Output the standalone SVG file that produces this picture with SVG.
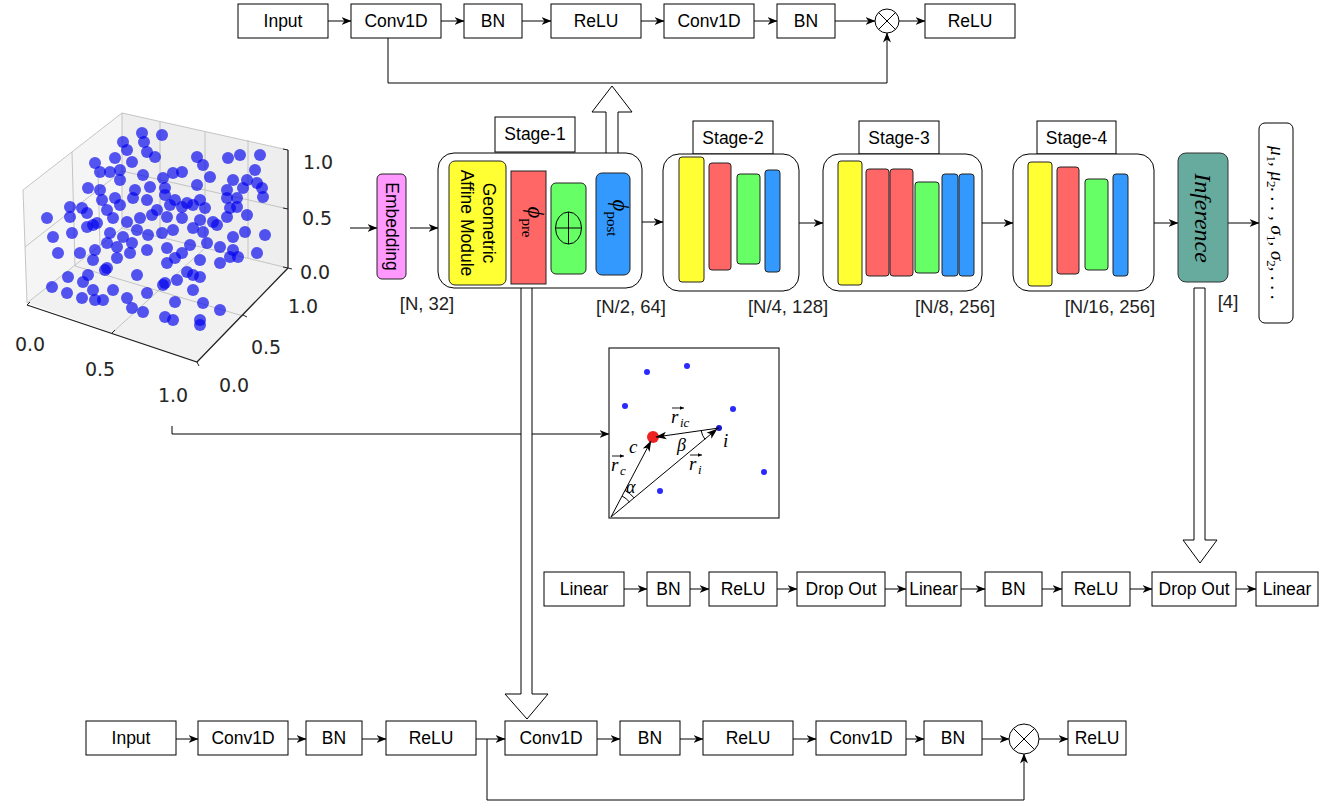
<svg xmlns="http://www.w3.org/2000/svg" width="1336" height="804" viewBox="0 0 1336 804">
<defs>
<marker id="ah" viewBox="0 0 10 10" refX="9.5" refY="5" markerWidth="10" markerHeight="10" orient="auto" markerUnits="userSpaceOnUse"><path d="M0,1 L10,5 L0,9 L3,5 z" fill="#000"/></marker>
<marker id="vh" viewBox="0 0 10 10" refX="9.5" refY="5" markerWidth="11" markerHeight="11" orient="auto" markerUnits="userSpaceOnUse"><path d="M0,1.5 L10,5 L0,8.5 L2.5,5 z" fill="#000"/></marker>
<marker id="sm" viewBox="0 0 10 10" refX="9.5" refY="5" markerWidth="4.5" markerHeight="4.5" orient="auto" markerUnits="userSpaceOnUse"><path d="M0,1 L10,5 L0,9 z" fill="#000"/></marker>
</defs>
<style>
.box{fill:#fff;stroke:#000;stroke-width:1}
.lbl{font-family:"Liberation Sans",Arial,Helvetica,sans-serif;font-size:17.5px;text-anchor:middle;dominant-baseline:central;fill:#000}
.dim{font-family:"Liberation Sans",Arial,Helvetica,sans-serif;font-size:18.5px;text-anchor:middle;fill:#222}
.conn{stroke:#000;stroke-width:1;fill:none}
.arr{marker-end:url(#ah)}
.stage{fill:#fff;stroke:#000;stroke-width:1}
.y{fill:#ffff33;stroke:#222;stroke-width:1}
.r{fill:#ff6666;stroke:#222;stroke-width:1}
.g{fill:#66ff66;stroke:#222;stroke-width:1}
.b{fill:#3399ff;stroke:#222;stroke-width:1}
.hollow{fill:#fff;stroke:#000;stroke-width:1}
.math{font-family:"Liberation Serif","Times New Roman",serif;font-style:italic;fill:#000}
.tick{font-family:"DejaVu Sans","Liberation Sans",sans-serif;font-size:19px;fill:#262626;text-anchor:middle;dominant-baseline:central}
.grid{stroke:#b8b8b8;stroke-width:0.8;fill:none}
.pt{fill:#0000ee;fill-opacity:0.66}
.ipt{fill:#2a2aff}
</style>

<!-- 3D scatter plot -->
<g id="scatter-plot">
<polygon points="23,190 122,113 122,228 27,303" fill="#f5f5f5" stroke="none"/>
<polygon points="122,113 288,150 288,268 122,228" fill="#eeeeee" stroke="none"/>
<polygon points="27,303 122,228 288,268 197,362" fill="#f1f1f1" stroke="none"/>
<path class="grid" d="M23,190 L122,113 L288,150 M23,190 L27,303 M122,113 L122,228 M72,152 L75,266 M205,132 L205,248 M25,247 L122,171 L288,209 M27,303 L122,228 L288,268 M75,266 L243,316 M205,248 L112,333 M98,171 L100,246 M160,122 L160,238 M248,140 L248,258"/>
<g>
<circle class="pt" cx="142" cy="133" r="6"/><circle class="pt" cx="162" cy="135" r="6"/>
<circle class="pt" cx="123" cy="142" r="6"/><circle class="pt" cx="144" cy="142" r="6"/>
<circle class="pt" cx="127" cy="150" r="6"/><circle class="pt" cx="147" cy="152" r="6"/><circle class="pt" cx="155" cy="157" r="6"/>
<circle class="pt" cx="197" cy="157" r="6"/><circle class="pt" cx="228" cy="158" r="6"/><circle class="pt" cx="240" cy="155" r="6"/><circle class="pt" cx="260" cy="155" r="6"/>
<circle class="pt" cx="95" cy="163" r="6"/><circle class="pt" cx="115" cy="158" r="6"/><circle class="pt" cx="132" cy="162" r="6"/><circle class="pt" cx="203" cy="165" r="6"/><circle class="pt" cx="255" cy="170" r="6"/>
<circle class="pt" cx="100" cy="172" r="6"/><circle class="pt" cx="110" cy="172" r="6"/><circle class="pt" cx="120" cy="170" r="6"/><circle class="pt" cx="143" cy="175" r="6"/><circle class="pt" cx="163" cy="178" r="6"/><circle class="pt" cx="173" cy="173" r="6"/><circle class="pt" cx="182" cy="172" r="6"/><circle class="pt" cx="210" cy="177" r="6"/><circle class="pt" cx="233" cy="180" r="6"/><circle class="pt" cx="247" cy="180" r="6"/><circle class="pt" cx="257" cy="183" r="6"/>
<circle class="pt" cx="88" cy="188" r="6"/><circle class="pt" cx="100" cy="190" r="6"/><circle class="pt" cx="120" cy="180" r="6"/><circle class="pt" cx="135" cy="190" r="6"/><circle class="pt" cx="150" cy="187" r="6"/><circle class="pt" cx="165" cy="188" r="6"/><circle class="pt" cx="197" cy="185" r="6"/><circle class="pt" cx="227" cy="190" r="6"/><circle class="pt" cx="243" cy="188" r="6"/><circle class="pt" cx="262" cy="188" r="6"/>
<circle class="pt" cx="102" cy="200" r="6"/><circle class="pt" cx="115" cy="198" r="6"/><circle class="pt" cx="133" cy="198" r="6"/><circle class="pt" cx="147" cy="200" r="6"/><circle class="pt" cx="165" cy="195" r="6"/><circle class="pt" cx="175" cy="200" r="6"/><circle class="pt" cx="187" cy="203" r="6"/><circle class="pt" cx="200" cy="200" r="6"/><circle class="pt" cx="227" cy="198" r="6"/><circle class="pt" cx="237" cy="198" r="6"/><circle class="pt" cx="263" cy="197" r="6"/>
<circle class="pt" cx="70" cy="207" r="6"/><circle class="pt" cx="82" cy="208" r="6"/><circle class="pt" cx="107" cy="210" r="6"/><circle class="pt" cx="120" cy="205" r="6"/><circle class="pt" cx="157" cy="210" r="6"/><circle class="pt" cx="170" cy="205" r="6"/><circle class="pt" cx="182" cy="207" r="6"/><circle class="pt" cx="193" cy="205" r="6"/><circle class="pt" cx="205" cy="208" r="6"/><circle class="pt" cx="230" cy="208" r="6"/><circle class="pt" cx="237" cy="207" r="6"/>
<circle class="pt" cx="47" cy="218" r="6"/><circle class="pt" cx="70" cy="217" r="6"/><circle class="pt" cx="87" cy="213" r="6"/><circle class="pt" cx="97" cy="223" r="6"/><circle class="pt" cx="113" cy="218" r="6"/><circle class="pt" cx="127" cy="222" r="6"/><circle class="pt" cx="140" cy="218" r="6"/><circle class="pt" cx="152" cy="215" r="6"/><circle class="pt" cx="167" cy="217" r="6"/><circle class="pt" cx="182" cy="218" r="6"/><circle class="pt" cx="200" cy="220" r="6"/><circle class="pt" cx="213" cy="222" r="6"/><circle class="pt" cx="227" cy="217" r="6"/><circle class="pt" cx="247" cy="215" r="6"/>
<circle class="pt" cx="53" cy="237" r="6"/><circle class="pt" cx="72" cy="233" r="6"/><circle class="pt" cx="87" cy="227" r="6"/><circle class="pt" cx="93" cy="225" r="6"/><circle class="pt" cx="110" cy="233" r="6"/><circle class="pt" cx="123" cy="237" r="6"/><circle class="pt" cx="137" cy="230" r="6"/><circle class="pt" cx="148" cy="235" r="6"/><circle class="pt" cx="162" cy="233" r="6"/><circle class="pt" cx="173" cy="230" r="6"/><circle class="pt" cx="193" cy="228" r="6"/><circle class="pt" cx="203" cy="232" r="6"/><circle class="pt" cx="217" cy="225" r="6"/><circle class="pt" cx="233" cy="237" r="6"/><circle class="pt" cx="245" cy="232" r="6"/><circle class="pt" cx="265" cy="235" r="6"/>
<circle class="pt" cx="58" cy="253" r="6"/><circle class="pt" cx="80" cy="253" r="6"/><circle class="pt" cx="95" cy="250" r="6"/><circle class="pt" cx="107" cy="243" r="6"/><circle class="pt" cx="117" cy="247" r="6"/><circle class="pt" cx="132" cy="243" r="6"/><circle class="pt" cx="147" cy="250" r="6"/><circle class="pt" cx="167" cy="248" r="6"/><circle class="pt" cx="182" cy="253" r="6"/><circle class="pt" cx="190" cy="245" r="6"/><circle class="pt" cx="207" cy="243" r="6"/><circle class="pt" cx="220" cy="247" r="6"/><circle class="pt" cx="233" cy="250" r="6"/><circle class="pt" cx="257" cy="253" r="6"/>
<circle class="pt" cx="93" cy="260" r="6"/><circle class="pt" cx="107" cy="268" r="6"/><circle class="pt" cx="117" cy="258" r="6"/><circle class="pt" cx="130" cy="253" r="6"/><circle class="pt" cx="167" cy="263" r="6"/><circle class="pt" cx="175" cy="258" r="6"/><circle class="pt" cx="200" cy="260" r="6"/><circle class="pt" cx="220" cy="263" r="6"/><circle class="pt" cx="230" cy="257" r="6"/><circle class="pt" cx="238" cy="257" r="6"/>
<circle class="pt" cx="68" cy="277" r="6"/><circle class="pt" cx="88" cy="275" r="6"/><circle class="pt" cx="105" cy="270" r="6"/><circle class="pt" cx="137" cy="275" r="6"/><circle class="pt" cx="165" cy="283" r="6"/><circle class="pt" cx="177" cy="280" r="6"/><circle class="pt" cx="187" cy="272" r="6"/><circle class="pt" cx="193" cy="275" r="6"/><circle class="pt" cx="200" cy="277" r="6"/>
<circle class="pt" cx="52" cy="287" r="6"/><circle class="pt" cx="67" cy="293" r="6"/><circle class="pt" cx="83" cy="282" r="6"/><circle class="pt" cx="93" cy="290" r="6"/><circle class="pt" cx="113" cy="290" r="6"/><circle class="pt" cx="127" cy="298" r="6"/><circle class="pt" cx="147" cy="293" r="6"/><circle class="pt" cx="163" cy="285" r="6"/><circle class="pt" cx="193" cy="290" r="6"/><circle class="pt" cx="203" cy="303" r="6"/>
<circle class="pt" cx="82" cy="298" r="6"/><circle class="pt" cx="95" cy="300" r="6"/><circle class="pt" cx="103" cy="300" r="6"/><circle class="pt" cx="132" cy="308" r="6"/><circle class="pt" cx="143" cy="312" r="6"/><circle class="pt" cx="165" cy="317" r="6"/><circle class="pt" cx="173" cy="320" r="6"/><circle class="pt" cx="175" cy="302" r="6"/><circle class="pt" cx="200" cy="320" r="6"/><circle class="pt" cx="200" cy="325" r="6"/><circle class="pt" cx="220" cy="310" r="6"/>
</g>
<path d="M27,305 L197,362 L288,268 M288,150 L288,268" stroke="#222" stroke-width="1.3" fill="none"/>
<path d="M27,305 l3,-3 M112,333 l3,-3 M197,362 l3,-3 M197,362 l2,4 M243,315 l4,2 M288,268 l4,1 M288,150 l-5,-1 M288,209 l-5,-1 M288,268 l-5,-1" stroke="#222" stroke-width="1" fill="none"/>
<text class="tick" x="318" y="162">1.0</text>
<text class="tick" x="317" y="218">0.5</text>
<text class="tick" x="315" y="272">0.0</text>
<text class="tick" x="303" y="306">1.0</text>
<text class="tick" x="266" y="347">0.5</text>
<text class="tick" x="234" y="385">0.0</text>
<text class="tick" x="30" y="344">0.0</text>
<text class="tick" x="100" y="369">0.5</text>
<text class="tick" x="173" y="395">1.0</text>
</g>

<!-- connectors -->
<g id="connectors">
<path class="conn arr" d="M328,21 L351,21"/>
<path class="conn arr" d="M441,21 L464,21"/>
<path class="conn arr" d="M522,21 L551,21"/>
<path class="conn arr" d="M641,21 L664,21"/>
<path class="conn arr" d="M754,21 L777,21"/>
<path class="conn arr" d="M835,21 L875,21"/>
<path class="conn arr" d="M899,21 L925,21"/>
<path class="conn arr" d="M388,38 L388,83 L887,83 L887,33"/>
<path class="conn arr" d="M350,228 L377,228"/>
<path class="conn arr" d="M410,228 L438,228"/>
<path class="conn arr" d="M642,222 L663,222"/>
<path class="conn arr" d="M799,223 L823,223"/>
<path class="conn arr" d="M982,223 L1013,223"/>
<path class="conn arr" d="M1154,223 L1178,223"/>
<path class="conn arr" d="M1228,223 L1259,223"/>
<path class="conn arr" d="M172,426 L172,434 L609,434"/>
<path class="conn arr" d="M624,589 L647,589"/>
<path class="conn arr" d="M690,589 L709,589"/>
<path class="conn arr" d="M777,589 L797,589"/>
<path class="conn arr" d="M885,589 L906,589"/>
<path class="conn arr" d="M961,589 L985,589"/>
<path class="conn arr" d="M1042,589 L1062,589"/>
<path class="conn arr" d="M1130,589 L1152,589"/>
<path class="conn arr" d="M1236,589 L1256,589"/>
<path class="conn arr" d="M176,739 L198,739"/>
<path class="conn arr" d="M288,739 L306,739"/>
<path class="conn arr" d="M362,739 L386,739"/>
<path class="conn arr" d="M476,739 L505,739"/>
<path class="conn arr" d="M597,739 L620,739"/>
<path class="conn arr" d="M680,739 L703,739"/>
<path class="conn arr" d="M793,739 L816,739"/>
<path class="conn arr" d="M906,739 L924,739"/>
<path class="conn arr" d="M982,739 L1009,739"/>
<path class="conn arr" d="M1039,739 L1068,739"/>
<path class="conn arr" d="M487,739 L487,800 L1024,800 L1024,754"/>
<polygon class="hollow" points="606,168 606,112 592,112 612,86 632,112 618,112 618,168"/>
<polygon class="hollow" points="521,285 532,285 532,694 548,694 527,719 505,694 521,694"/>
<polygon class="hollow" points="1194,288 1205,288 1205,540 1217,540 1200,563 1183,540 1194,540"/>
</g>

<!-- top residual block -->
<g id="top-input"><rect class="box" x="238" y="4" width="90" height="34"/><text class="lbl" x="283" y="21">Input</text></g>
<g id="top-conv1"><rect class="box" x="351" y="4" width="90" height="34"/><text class="lbl" x="396" y="21">Conv1D</text></g>
<g id="top-bn1"><rect class="box" x="464" y="4" width="58" height="34"/><text class="lbl" x="493" y="21">BN</text></g>
<g id="top-relu1"><rect class="box" x="551" y="4" width="90" height="34"/><text class="lbl" x="596" y="21">ReLU</text></g>
<g id="top-conv2"><rect class="box" x="664" y="4" width="90" height="34"/><text class="lbl" x="709" y="21">Conv1D</text></g>
<g id="top-bn2"><rect class="box" x="777" y="4" width="58" height="34"/><text class="lbl" x="806" y="21">BN</text></g>
<g id="top-mul"><circle class="box" cx="887" cy="21" r="12"/><path d="M878.5,12.5 L895.5,29.5 M895.5,12.5 L878.5,29.5" stroke="#000" stroke-width="1"/></g>
<g id="top-relu2"><rect class="box" x="925" y="4" width="90" height="34"/><text class="lbl" x="970" y="21">ReLU</text></g>

<!-- embedding -->
<g id="embedding"><rect x="377" y="174" width="29" height="105" rx="5" fill="#ff99ff" stroke="#222"/><text class="lbl" font-size="19" transform="translate(391.5,226.5) rotate(90)" x="0" y="0">Embedding</text></g>
<text class="dim" x="427" y="310">[N, 32]</text>

<!-- stage 1 -->
<g id="stage-1">
<rect class="box" x="495" y="117" width="80" height="35"/><text class="lbl" x="535" y="134">Stage-1</text>
<rect class="stage" x="438" y="153" width="204" height="135" rx="16"/>
<rect class="y" x="449" y="161" width="57" height="124" rx="6"/>
<text class="lbl" font-size="19" transform="translate(477.5,223) rotate(90)"><tspan x="0" y="-11">Geometric</tspan><tspan x="0" y="11">Affine Module</tspan></text>
<rect class="r" x="511" y="171" width="35" height="113"/>
<text class="math" transform="translate(528,222) rotate(90)" text-anchor="middle" font-size="23"><tspan>ϕ</tspan><tspan font-size="15" font-style="normal" dy="6">pre</tspan></text>
<rect class="g" x="551" y="183" width="35" height="91" rx="5"/>
<ellipse cx="568.5" cy="228" rx="13" ry="16" fill="none" stroke="#000"/>
<path d="M555.5,228 L581.5,228 M568.5,212 L568.5,244" stroke="#000"/>
<rect class="b" x="596" y="173" width="34" height="102" rx="6"/>
<text class="math" transform="translate(613,218) rotate(90)" text-anchor="middle" font-size="23"><tspan>ϕ</tspan><tspan font-size="15" font-style="normal" dy="6">post</tspan></text>
</g>
<text class="dim" x="631" y="313">[N/2, 64]</text>

<!-- stage 2 -->
<g id="stage-2">
<rect class="box" x="693" y="121" width="80" height="33"/><text class="lbl" x="733" y="137.5">Stage-2</text>
<rect class="stage" x="663" y="154" width="136" height="137" rx="16"/>
<rect class="y" x="679" y="157" width="25" height="125" rx="3"/>
<rect class="r" x="709" y="163" width="22" height="107" rx="3"/>
<rect class="g" x="737" y="174" width="23" height="90" rx="3"/>
<rect class="b" x="765" y="170" width="15" height="102" rx="3"/>
</g>
<text class="dim" x="788" y="313">[N/4, 128]</text>

<!-- stage 3 -->
<g id="stage-3">
<rect class="box" x="859" y="121" width="80" height="33"/><text class="lbl" x="899" y="137.5">Stage-3</text>
<rect class="stage" x="823" y="154" width="159" height="137" rx="16"/>
<rect class="y" x="838" y="161" width="24" height="124" rx="3"/>
<rect class="r" x="866" y="169" width="23" height="107" rx="3"/>
<rect class="r" x="890" y="169" width="23" height="107" rx="3"/>
<rect class="g" x="915" y="182" width="24" height="91" rx="3"/>
<rect class="b" x="942" y="174" width="16" height="102" rx="3"/>
<rect class="b" x="959" y="174" width="15" height="102" rx="3"/>
</g>
<text class="dim" x="955" y="313">[N/8, 256]</text>

<!-- stage 4 -->
<g id="stage-4">
<rect class="box" x="1037" y="121" width="79" height="33"/><text class="lbl" x="1076.5" y="137.5">Stage-4</text>
<rect class="stage" x="1013" y="154" width="141" height="137" rx="16"/>
<rect class="y" x="1028" y="162" width="24" height="124" rx="3"/>
<rect class="r" x="1057" y="167" width="22" height="107" rx="3"/>
<rect class="g" x="1085" y="179" width="23" height="91" rx="3"/>
<rect class="b" x="1113" y="174" width="15" height="102" rx="3"/>
</g>
<text class="dim" x="1110" y="313">[N/16, 256]</text>

<!-- inference -->
<g id="inference"><rect x="1178" y="153" width="50" height="129" rx="8" fill="#67ab9f" stroke="#333"/><text class="math" font-size="24" text-anchor="middle" dominant-baseline="central" transform="translate(1203,218) rotate(90)">Inference</text></g>
<text class="dim" x="1228" y="308">[4]</text>

<!-- output -->
<g id="output"><rect class="box" x="1259" y="123" width="34" height="200" rx="6"/>
<text class="math" font-size="19" text-anchor="middle" transform="translate(1271,223) rotate(90)">μ<tspan font-size="13" dy="4" font-style="normal">1</tspan><tspan dy="-4">, μ</tspan><tspan font-size="13" dy="4" font-style="normal">2</tspan><tspan dy="-4">. . . , σ</tspan><tspan font-size="13" dy="4" font-style="normal">1</tspan><tspan dy="-4">, σ</tspan><tspan font-size="13" dy="4" font-style="normal">2</tspan><tspan dy="-4">, . . .</tspan></text></g>

<!-- geometry inset -->
<g id="geometry-inset">
<rect x="609" y="348" width="170" height="170" fill="#fff" stroke="#222" stroke-width="1.2"/>
<circle class="ipt" cx="647" cy="372" r="3"/>
<circle class="ipt" cx="687" cy="366" r="3"/>
<circle class="ipt" cx="625" cy="406" r="3"/>
<circle class="ipt" cx="733" cy="409" r="3"/>
<circle class="ipt" cx="764" cy="472" r="3"/>
<circle class="ipt" cx="660" cy="491" r="3"/>
<circle cx="719" cy="428" r="3" fill="#1a1acc"/>
<circle cx="653" cy="437" r="6" fill="#ee2222"/>
<path d="M611,517 L651,441" stroke="#000" stroke-width="1" marker-end="url(#vh)"/>
<path d="M611,517 L717,429" stroke="#000" stroke-width="1" marker-end="url(#vh)"/>
<path d="M719,428 L656,437" stroke="#000" stroke-width="1" marker-end="url(#vh)"/>
<path d="M625,490.4 A30,30 0 0 1 634.1,497.9" fill="none" stroke="#000"/>
<path d="M622,496 A24,24 0 0 1 629.5,502" fill="none" stroke="#000"/>
<path d="M701.2,430.6 A18,18 0 0 0 705.1,439.4" fill="none" stroke="#000"/>
<path d="M672,408 L684,408" stroke="#000" stroke-width="0.9" marker-end="url(#sm)"/>
<text class="math" font-size="19" x="671" y="423">r</text><text class="math" font-size="13" x="680" y="427">ic</text>
<text class="math" font-size="19" x="629" y="453">c</text>
<text class="math" font-size="18" x="677" y="451">β</text>
<text class="math" font-size="19" x="723" y="447">i</text>
<path d="M612,456 L624,456" stroke="#000" stroke-width="0.9" marker-end="url(#sm)"/>
<text class="math" font-size="19" x="611" y="471">r</text><text class="math" font-size="13" x="620" y="475">c</text>
<path d="M690,455 L702,455" stroke="#000" stroke-width="0.9" marker-end="url(#sm)"/>
<text class="math" font-size="19" x="689" y="470">r</text><text class="math" font-size="13" x="698" y="474">i</text>
<text class="math" font-size="18" x="626" y="493">α</text>
</g>

<!-- MLP row -->
<g id="mlp-linear1"><rect class="box" x="544" y="572" width="80" height="34"/><text class="lbl" x="584" y="589">Linear</text></g>
<g id="mlp-bn1"><rect class="box" x="647" y="572" width="43" height="34"/><text class="lbl" x="668.5" y="589">BN</text></g>
<g id="mlp-relu1"><rect class="box" x="709" y="572" width="68" height="34"/><text class="lbl" x="743" y="589">ReLU</text></g>
<g id="mlp-drop1"><rect class="box" x="797" y="572" width="88" height="34"/><text class="lbl" x="841" y="589">Drop Out</text></g>
<g id="mlp-linear2"><rect class="box" x="906" y="572" width="55" height="34"/><text class="lbl" x="933.5" y="589">Linear</text></g>
<g id="mlp-bn2"><rect class="box" x="985" y="572" width="57" height="34"/><text class="lbl" x="1013.5" y="589">BN</text></g>
<g id="mlp-relu2"><rect class="box" x="1062" y="572" width="68" height="34"/><text class="lbl" x="1096" y="589">ReLU</text></g>
<g id="mlp-drop2"><rect class="box" x="1152" y="572" width="84" height="34"/><text class="lbl" x="1194" y="589">Drop Out</text></g>
<g id="mlp-linear3"><rect class="box" x="1256" y="572" width="62" height="34"/><text class="lbl" x="1287" y="589">Linear</text></g>

<!-- bottom residual block -->
<g id="bot-input"><rect class="box" x="86" y="721" width="90" height="34"/><text class="lbl" x="131" y="738">Input</text></g>
<g id="bot-conv1"><rect class="box" x="198" y="721" width="90" height="34"/><text class="lbl" x="243" y="738">Conv1D</text></g>
<g id="bot-bn1"><rect class="box" x="306" y="721" width="56" height="34"/><text class="lbl" x="334" y="738">BN</text></g>
<g id="bot-relu1"><rect class="box" x="386" y="721" width="90" height="34"/><text class="lbl" x="431" y="738">ReLU</text></g>
<g id="bot-conv2"><rect class="box" x="505" y="721" width="92" height="34"/><text class="lbl" x="551" y="738">Conv1D</text></g>
<g id="bot-bn2"><rect class="box" x="620" y="721" width="60" height="34"/><text class="lbl" x="650" y="738">BN</text></g>
<g id="bot-relu2"><rect class="box" x="703" y="721" width="90" height="34"/><text class="lbl" x="748" y="738">ReLU</text></g>
<g id="bot-conv3"><rect class="box" x="816" y="721" width="90" height="34"/><text class="lbl" x="861" y="738">Conv1D</text></g>
<g id="bot-bn3"><rect class="box" x="924" y="721" width="58" height="34"/><text class="lbl" x="953" y="738">BN</text></g>
<g id="bot-mul"><circle class="box" cx="1024" cy="739" r="15"/><path d="M1013.4,728.4 L1034.6,749.6 M1034.6,728.4 L1013.4,749.6" stroke="#000" stroke-width="1"/></g>
<g id="bot-relu3"><rect class="box" x="1068" y="721" width="58" height="34"/><text class="lbl" x="1097" y="738">ReLU</text></g>
</svg>
